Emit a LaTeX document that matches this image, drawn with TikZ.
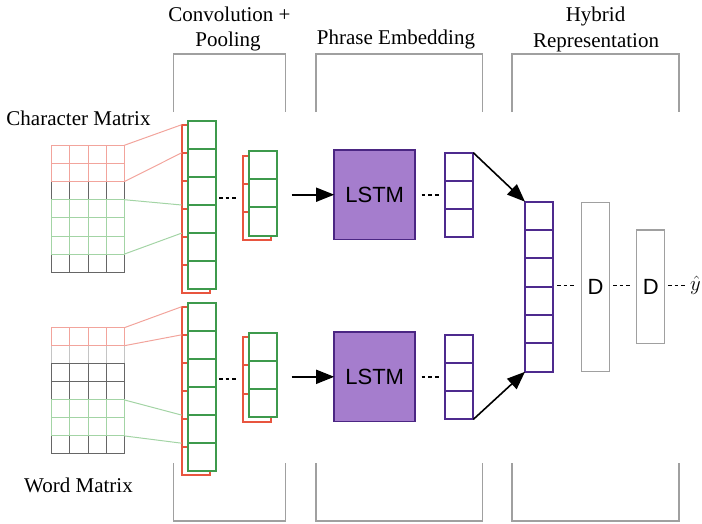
\documentclass[tikz,border=0pt]{standalone}
\usepackage{fontspec}
\setmainfont{Liberation Serif}
\newfontfamily\sansf{Liberation Sans}
\usetikzlibrary{arrows.meta}
\definecolor{cgreen}{HTML}{3E9A4C}
\definecolor{cred}{HTML}{E8553F}
\definecolor{cpurp}{HTML}{4E2A8E}
\definecolor{lfill}{HTML}{A57DCD}
\definecolor{lbord}{HTML}{4B2683}
\definecolor{gpink}{HTML}{F2A49C}
\definecolor{ggreen}{HTML}{A3D4A5}
\definecolor{gdark}{HTML}{666666}
\definecolor{glight}{HTML}{C4C4C4}
\definecolor{brk}{HTML}{A0A0A0}
\tikzset{
  cellbase/.style={draw, fill=white, line width=2pt, inner sep=0pt, outer sep=0pt, minimum width=28pt, anchor=north west},
  gcell/.style={cellbase, draw=cgreen},
  rcell/.style={cellbase, draw=cred},
  pcell/.style={cellbase, draw=cpurp},
  lstmbox/.style={draw=lbord, fill=lfill, line width=1.8pt, inner sep=0pt, outer sep=0pt, minimum width=81pt, minimum height=89.5pt, font=\sansf\fontsize{22}{26}\selectfont},
  dbox/.style={draw=brk, line width=1.3pt, inner sep=0pt, outer sep=0pt, minimum width=28pt, font=\sansf\fontsize{22}{26}\selectfont},
  ttl/.style={font=\fontsize{21}{25}\selectfont, inner sep=0pt, anchor=base},
  bracketln/.style={draw=brk, line width=1.4pt},
  pinkln/.style={draw=gpink, line width=1pt},
  greenln/.style={draw=ggreen, line width=1pt},
  dotsln/.style={draw=black, line width=1.8pt, dash pattern=on 3.6pt off 3pt},
  arr/.style={draw=black, line width=1.6pt, -{Triangle[length=18pt,width=14pt]}},
}
\newcommand\mkcol[6]{\foreach \i in {1,...,#6}{\node[#2, minimum height=#5pt] (#1\i) at ({#3},{#4+(\i-1)*#5}) {};}}
\begin{document}
\begin{tikzpicture}[x=1pt,y=-1pt]
\useasboundingbox (0,0) rectangle (702,523);
% titles
\node[ttl] (t1a) at (229.5,21) {Convolution +};
\node[ttl] (t1b) at (228,46) {Pooling};
\node[ttl] (t2) at (396,44) {Phrase Embedding};
\node[ttl] (t3a) at (595.5,21) {Hybrid};
\node[ttl] (t3b) at (596,47) {Representation};
\node[ttl] (cmat) at (78.5,125) {Character Matrix};
\node[ttl] (wmat) at (78.5,492) {Word Matrix};
% brackets
\draw[bracketln] (173.5,112) |- (285.5,54) -- (285.5,112);
\draw[bracketln] (316,112) |- (482.7,54) -- (482.7,112);
\draw[bracketln] (512,112) |- (679,54) -- (679,112);
\draw[bracketln] (173.5,463) |- (285.5,521) -- (285.5,463);
\draw[bracketln] (316,463) |- (482.7,521) -- (482.7,463);
\draw[bracketln] (512,463) |- (679,521) -- (679,463);
% character matrix grid
\foreach \rr/\mcol in {2/gdark,6/gdark,0/gpink,1/gpink,3/ggreen,4/ggreen,5/ggreen}
  \foreach \k in {0,...,3}
    \draw[draw=\mcol, line width=1pt] ({51.7+\k*18.15},{145.3+\rr*18.14}) rectangle ++(18.15,18.14);
% word matrix grid
\foreach \rr/\mcol in {1/glight,2/gdark,3/gdark,6/gdark,0/gpink,4/ggreen,5/ggreen}
  \foreach \k in {0,...,3}
    \draw[draw=\mcol, line width=1pt] ({51.7+\k*18.15},{327.7+\rr*18.04}) rectangle ++(18.15,18.04);
\coordinate (cm0) at (124.3,145.3);
\coordinate (cm2) at (124.3,181.6);
\coordinate (cm3) at (124.3,199.7);
\coordinate (cm6) at (124.3,254.1);
\coordinate (wm0) at (124.3,327.7);
\coordinate (wm1) at (124.3,345.7);
\coordinate (wm4) at (124.3,399.9);
\coordinate (wm6) at (124.3,435.9);
% convolution columns (shadow first)
\mkcol{cr}{rcell}{181.7}{124.7}{28.1}{6}
\mkcol{cg}{gcell}{188}{120.7}{28.1}{6}
\mkcol{wr}{rcell}{181.7}{306.7}{28.1}{6}
\mkcol{wg}{gcell}{188}{302.7}{28.1}{6}
% matrix to convolution connectors
\draw[pinkln] (cm0) -- (cr1.north west);
\draw[pinkln] (cm2) -- (cr2.north west);
\draw[greenln] (cm3) -- (cr4.west |- cg4.north);
\draw[greenln] (cm6) -- (cr5.west |- cg5.north);
\draw[pinkln] (wm0) -- (wr1.north west);
\draw[pinkln] (wm1) -- (wr2.north west);
\draw[greenln] (wm4) -- (wr5.west |- wg5.north);
\draw[greenln] (wm6) -- (wr6.west |- wg6.north);
% pooled columns
\mkcol{pr}{rcell}{242.7}{155.5}{28.2}{3}
\mkcol{pg}{gcell}{249}{151}{28.2}{3}
\mkcol{qr}{rcell}{242.7}{337.2}{28.2}{3}
\mkcol{qg}{gcell}{249}{332.7}{28.2}{3}
\coordinate (dA1) at (219,198);
\coordinate (dA2) at (237,198);
\coordinate (dB1) at (219,379);
\coordinate (dB2) at (237,379);
\draw[dotsln] (dA1) -- (dA2);
\draw[dotsln] (dB1) -- (dB2);
% LSTM
\node[lstmbox] (lstm1) at (374.7,194.7) {LSTM};
\node[lstmbox] (lstm2) at (374.7,376.8) {LSTM};
\coordinate (aS1) at (291.7,194.7);
\coordinate (aS2) at (291.7,376.8);
\draw[arr] (aS1) -- (lstm1.west);
\draw[arr] (aS2) -- (lstm2.west);
% phrase embedding columns
\mkcol{pa}{pcell}{445.3}{152.7}{28.2}{3}
\mkcol{pb}{pcell}{445.3}{334.8}{28.2}{3}
\coordinate (dC1) at (421.7,194.7);
\coordinate (dC2) at (439,194.7);
\coordinate (dD1) at (421.7,376.8);
\coordinate (dD2) at (439,376.8);
\draw[dotsln] (dC1) -- (dC2);
\draw[dotsln] (dD1) -- (dD2);
% hybrid representation
\mkcol{hc}{pcell}{525}{201.7}{28.35}{6}
\draw[arr] (pa1.north east) -- (hc1.north west);
\draw[arr] (pb3.south east) -- (hc6.south west);
\node[dbox, minimum height=169.4pt] (d1) at (595.5,287) {D};
\node[dbox, minimum height=113.3pt] (d2) at (650.7,286.7) {D};
\node[font=\fontsize{21}{25}\selectfont, inner sep=0pt, anchor=west] (yhat) at (690,285) {$\hat{y}$};
\coordinate (dE1) at (557,285.5);
\coordinate (dE2) at (575,285.5);
\coordinate (dF1) at (613,285.5);
\coordinate (dF2) at (632,285.5);
\coordinate (dG1) at (668,285.5);
\coordinate (dG2) at (685,285.5);
\draw[dotsln] (dE1) -- (dE2);
\draw[dotsln] (dF1) -- (dF2);
\draw[dotsln] (dG1) -- (dG2);
\end{tikzpicture}
\end{document}
